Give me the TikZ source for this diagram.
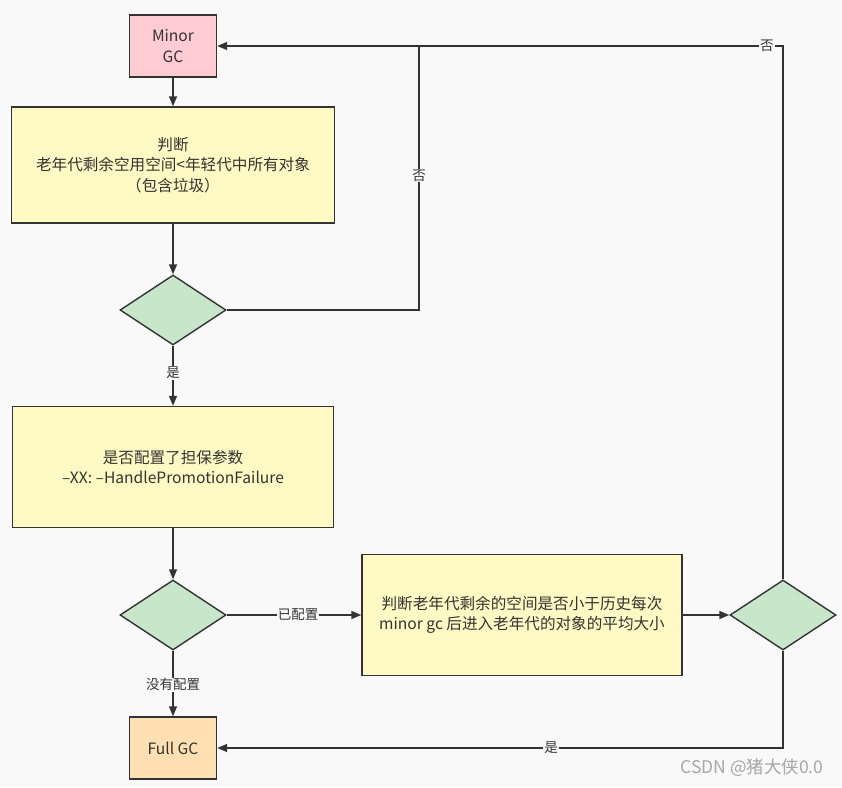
\documentclass[tikz,border=0pt]{standalone}
\usepackage{fontspec}
\setmainfont{Noto Sans CJK SC}
\usetikzlibrary{shapes.geometric,arrows.meta}

\definecolor{bgcol}{HTML}{F9F9F9}
\definecolor{linecol}{HTML}{333333}
\definecolor{pinkcol}{HTML}{FFCCD4}
\definecolor{yellowcol}{HTML}{FFF9C3}
\definecolor{greencol}{HTML}{C8E6C9}
\definecolor{orangecol}{HTML}{FFE0B2}

\tikzset{
  box/.style={draw=linecol, line width=1.4pt, fill=yellowcol, text=linecol,
    inner sep=0pt, align=center, font=\fontsize{15.6}{20.5}\selectfont},
  decision/.style={draw=linecol, line width=1.4pt, fill=greencol, diamond,
    inner sep=0pt, minimum width=106pt, minimum height=70pt, aspect=1.5},
  flow/.style={draw=linecol, line width=1.4pt, -{Triangle[length=10pt,width=8pt]}},
  edgelabel/.style={fill=bgcol, inner sep=1pt, text=linecol,
    font=\fontsize{13.5}{15}\selectfont}
}

\begin{document}
\begin{tikzpicture}[x=1pt, y=-1pt]
            \fill[bgcol] (0,0) rectangle (842,787);
            \useasboundingbox (0,0) rectangle (842,787);

            \node[box, fill=pinkcol, minimum width=87pt, minimum height=62pt] (minor) at (173,46) {Minor\\GC};
            \node[box, minimum width=323pt, minimum height=116pt] (judge) at (173,165) {判断\\老年代剩余空用空间<年轻代中所有对象\\（包含垃圾）};
            \node[decision] (check) at (173,310) {};
            \node[box, minimum width=321pt, minimum height=121pt] (param) at (173,467) {是否配置了担保参数\\–XX: –HandlePromotionFailure};
            \node[decision] (config) at (173,615) {};
            \node[box, fill=orangecol, minimum width=87pt, minimum height=62pt] (full) at (173,748) {Full GC};
            \node[box, minimum width=320pt, minimum height=121pt] (avg) at (522,615) {判断老年代剩余的空间是否小于历史每次\\minor gc 后进入老年代的对象的平均大小};
            \node[decision] (compare) at (783,615) {};
            \coordinate (join) at (419,46);

            \draw[flow] (minor) -- (judge);
            \draw[flow] (judge) -- (check);
            \draw[flow] (check) -- node[edgelabel, pos=0.45] {是} (param);
            \draw[flow] (param) -- (config);
            \draw[flow] (config) -- node[edgelabel, pos=0.53] {已配置} (avg);
            \draw[flow] (config) -- node[edgelabel, pos=0.52] {没有配置} (full);
            \draw[flow] (avg) -- (compare);
            \draw[draw=linecol, line width=1.4pt] (check.east) -| node[edgelabel, pos=0.755] {否} (join);
            \draw[draw=linecol, line width=1.4pt] (compare.north) |- node[edgelabel, pos=0.522] {否} (join);
            \draw[flow] (join) -- (minor.east);
            \draw[flow] (compare.south) |- node[edgelabel, pos=0.705] {是} (full.east);

            \node[anchor=east, text=black!35, font=\fontsize{17.5}{20}\selectfont] (credit) at (827,768) {CSDN @猪大侠0.0};
        \end{tikzpicture}
\end{document}
